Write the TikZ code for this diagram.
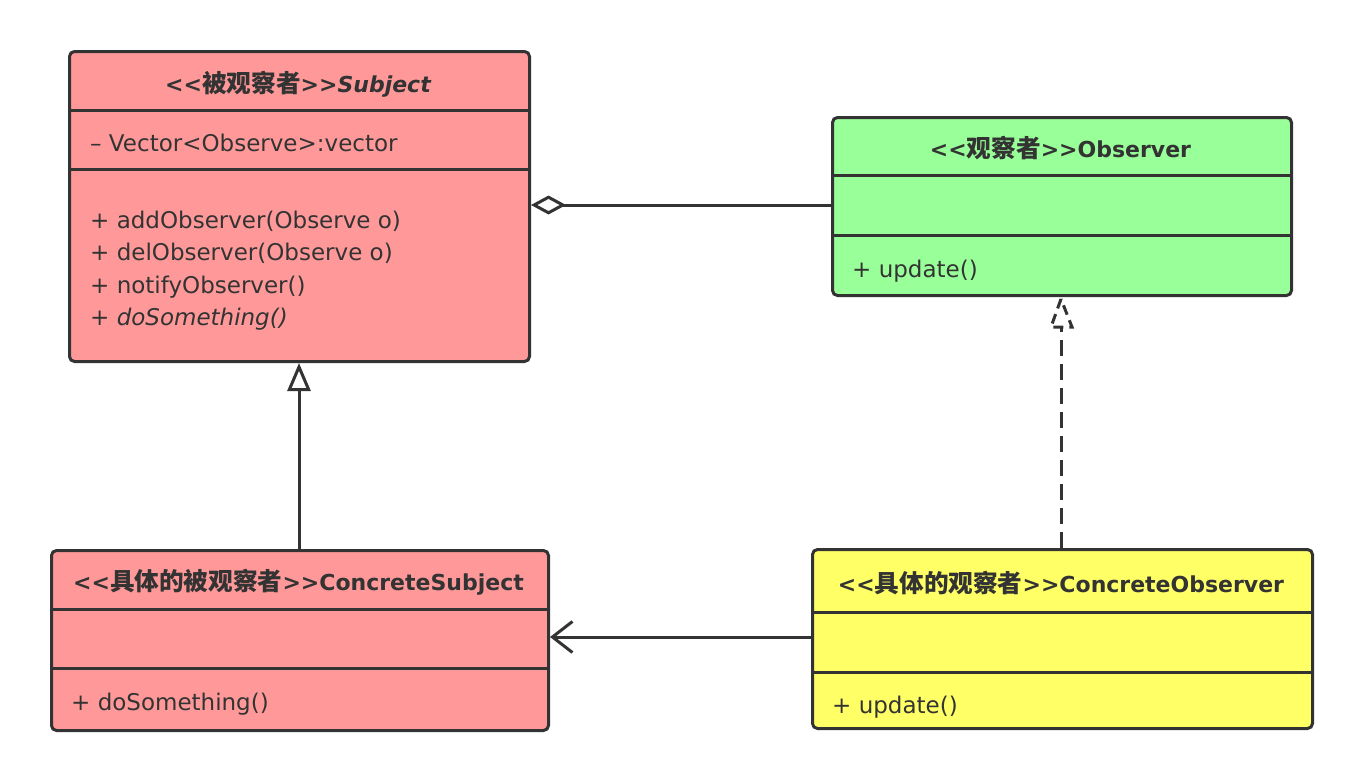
\documentclass[tikz,border=0pt]{standalone}
\usepackage{fontspec}
\setmainfont{DejaVu Sans}[Ligatures=NoCommon]
\newfontfamily\cjk{Noto Sans CJK SC}[AutoFakeSlant=0.2,Scale=1.12]
\usetikzlibrary{arrows.meta}
\definecolor{ink}{HTML}{333333}
\definecolor{redfill}{HTML}{FF9999}
\definecolor{greenfill}{HTML}{99FF99}
\definecolor{yellowfill}{HTML}{FFFF66}
\newcommand{\lt}{<{}<}
\newcommand{\gt}{>{}>}
\begin{document}
\begin{tikzpicture}[x=1pt,y=-1pt,
  classbox/.style={draw=ink,line width=3pt,rounded corners=5pt,inner sep=0pt,anchor=north west},
  sepline/.style={draw=ink,line width=3pt},
  txt/.style={anchor=base west,inner sep=0pt,text=ink,font=\fontsize{23}{27}\selectfont},
  ttl/.style={anchor=base,inner sep=0pt,text=ink,font=\fontsize{22}{27}\selectfont\bfseries},
  conn/.style={draw=ink,line width=3pt}]
\useasboundingbox[fill=white] (0,0) rectangle (1361,779);

% Subject
\node[classbox,fill=redfill,minimum width=460pt,minimum height=310pt] (subj) at (68,50) {};
\draw[sepline] (68,110) -- (528,110);
\draw[sepline] (68,169) -- (528,169);
\node[ttl] (subjT) at (298,92) {\itshape \lt{\cjk 被观察者}\gt Subject};
\node[txt] (subjA) at (90,151) {– Vector<Observe>:vector};
\node[txt] (subjM1) at (90,228) {+ addObserver(Observe o)};
\node[txt] (subjM2) at (90,260) {+ delObserver(Observe o)};
\node[txt] (subjM3) at (90,293) {+ notifyObserver()};
\node[txt] (subjM4) at (90,325) {\itshape + doSomething()};

% Observer
\node[classbox,fill=greenfill,minimum width=459pt,minimum height=178pt] (obs) at (831,116) {};
\draw[sepline] (831,175) -- (1290,175);
\draw[sepline] (831,235) -- (1290,235);
\node[ttl] (obsT) at (1060.5,157) {\lt{\cjk\bfseries 观察者}\gt Observer};
\node[txt] (obsM1) at (852,277) {+ update()};

% ConcreteSubject
\node[classbox,fill=redfill,minimum width=497pt,minimum height=180pt] (csubj) at (50,549) {};
\draw[sepline] (50,609) -- (547,609);
\draw[sepline] (50,668) -- (547,668);
\node[ttl] (csubjT) at (298.5,590) {\lt{\cjk\bfseries 具体的被观察者}\gt ConcreteSubject};
\node[txt] (csubjM1) at (71,710) {+ doSomething()};

% ConcreteObserver
\node[classbox,fill=yellowfill,minimum width=500pt,minimum height=179pt] (cobs) at (811,548) {};
\draw[sepline] (811,612) -- (1311,612);
\draw[sepline] (811,672) -- (1311,672);
\node[ttl] (cobsT) at (1061,592) {\lt{\cjk\bfseries 具体的观察者}\gt ConcreteObserver};
\node[txt] (cobsM1) at (832,713) {+ update()};

% aggregation
\draw[conn,{Diamond[open,length=35pt,width=19pt]}-] (subj.east |- 0,205) -- (obs.west |- 0,205);
% generalization
\draw[conn,-{Triangle[open,length=28pt,width=23pt]}] (csubj.north -| 299,0) -- (subj.south -| 299,0);
% realization (dashed)
\coordinate (rtip) at ([yshift=-2pt]obs.south -| 1061,0);
\draw[conn,dash pattern=on 16pt off 8pt] (cobs.north -| 1061,0) -- ([yshift=-28pt]rtip);
\draw[conn,dash pattern=on 10pt off 6pt,line join=miter] (rtip) -- ++(-10,28) -- ++(21,0) -- cycle;
% association
\draw[conn,-{Straight Barb[length=20pt,width=31pt]}] (cobs.west |- 0,637) -- (csubj.east |- 0,637);
\end{tikzpicture}
\end{document}
